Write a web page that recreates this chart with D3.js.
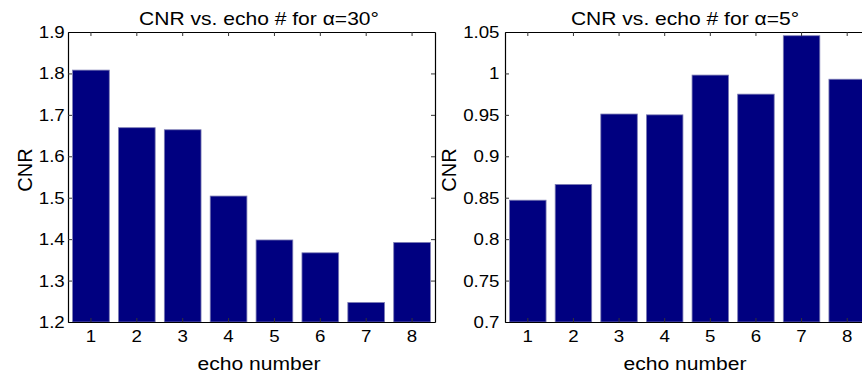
<!DOCTYPE html>
<html>
<head>
<meta charset="utf-8">
<script src="https://cdn.jsdelivr.net/npm/d3@7"></script>
<style>
  body { margin: 0; background: #fff; }
  text { font-family: "Liberation Sans", Arial, sans-serif; fill: #000; }
</style>
</head>
<body>
<div id="chart"></div>
<script>
// data
var echoes = [1, 2, 3, 4, 5, 6, 7, 8];
var cnr30 = [1.808, 1.669, 1.664, 1.504, 1.398, 1.367, 1.247, 1.392];
var cnr5 = [0.847, 0.866, 0.951, 0.950, 0.998, 0.975, 1.0455, 0.993];
var ticks30 = [1.2, 1.3, 1.4, 1.5, 1.6, 1.7, 1.8, 1.9];
var ticks5 = [0.7, 0.75, 0.8, 0.85, 0.9, 0.95, 1, 1.05];

var W = 862, H = 378;
var top_y = 32, bottom_y = 322;
var barColor = "#000080";

var svg = d3
  .select("#chart")
  .append("svg")
  .attr("width", W)
  .attr("height", H);

function panel(opts) {
  var x = d3.scaleBand()
    .domain(echoes)
    .range([opts.left, opts.right])
    .paddingInner(0.2)
    .paddingOuter(0.1);

  var y = d3.scaleLinear()
    .domain([opts.ticks[0], opts.ticks[opts.ticks.length - 1]])
    .range([bottom_y, top_y]);

  var g = svg.append("g");

  g.append("g")
    .selectAll("rect")
    .data(opts.values)
    .join("rect")
    .attr("x", (d, i) => x(echoes[i]))
    .attr("width", x.bandwidth())
    .attr("y", d => y(d))
    .attr("height", d => y.range()[0] - y(d))
    .attr("fill", barColor)
    .attr("stroke", "#7c7cb4")
    .attr("stroke-width", 0.8);

  var fmt = d => String(+d.toFixed(2));

  // left axis with labels
  var ya = g.append("g")
    .attr("transform", `translate(${opts.left},0)`)
    .call(d3.axisLeft(y).tickValues(opts.ticks).tickFormat(fmt)
      .tickSize(-4).tickSizeOuter(0).tickPadding(opts.pad));
  // right axis, ticks only
  g.append("g")
    .attr("transform", `translate(${opts.right},0)`)
    .call(d3.axisRight(y).tickValues(opts.ticks).tickFormat("")
      .tickSize(-4).tickSizeOuter(0));
  // bottom axis with labels
  var xa = g.append("g")
    .attr("transform", `translate(0,${bottom_y})`)
    .call(d3.axisBottom(x).tickSize(-4).tickSizeOuter(0).tickPadding(8));
  // top axis, ticks only
  g.append("g")
    .attr("transform", `translate(0,${top_y})`)
    .call(d3.axisTop(x).tickFormat("").tickSize(-4).tickSizeOuter(0));

  g.selectAll(".domain").attr("stroke", "#000").attr("stroke-width", 1.2);
  g.selectAll(".tick line").attr("stroke", "#333");

  ya.selectAll("text")
    .style("font-size", "17px")
    .attr("transform", "scale(1.1,1)");
  xa.selectAll("text")
    .style("font-size", "17px")
    .attr("transform", "scale(1.1,1)");

  var cx = opts.labelX;
  g.append("text")
    .attr("transform", `translate(${cx},25) scale(1.17,1)`)
    .attr("text-anchor", "middle")
    .style("font-size", "18px")
    .text(opts.title);

  g.append("text")
    .attr("transform", `translate(${cx},370) scale(1.14,1)`)
    .attr("text-anchor", "middle")
    .style("font-size", "18.5px")
    .text("echo number");

  g.append("text")
    .attr("transform", `translate(${opts.ylabX},170) rotate(-90)`)
    .attr("text-anchor", "middle")
    .style("font-size", "20px")
    .text("CNR");
}

panel({
  left: 68, right: 435, values: cnr30, ticks: ticks30, pad: 3,
  title: "CNR vs. echo # for \u03b1=30\u00b0", labelX: 259, ylabX: 32
});

panel({
  left: 505, right: 870, values: cnr5, ticks: ticks5, pad: 5,
  title: "CNR vs. echo # for \u03b1=5\u00b0", labelX: 685, ylabX: 456
});
</script>
</body>
</html>
